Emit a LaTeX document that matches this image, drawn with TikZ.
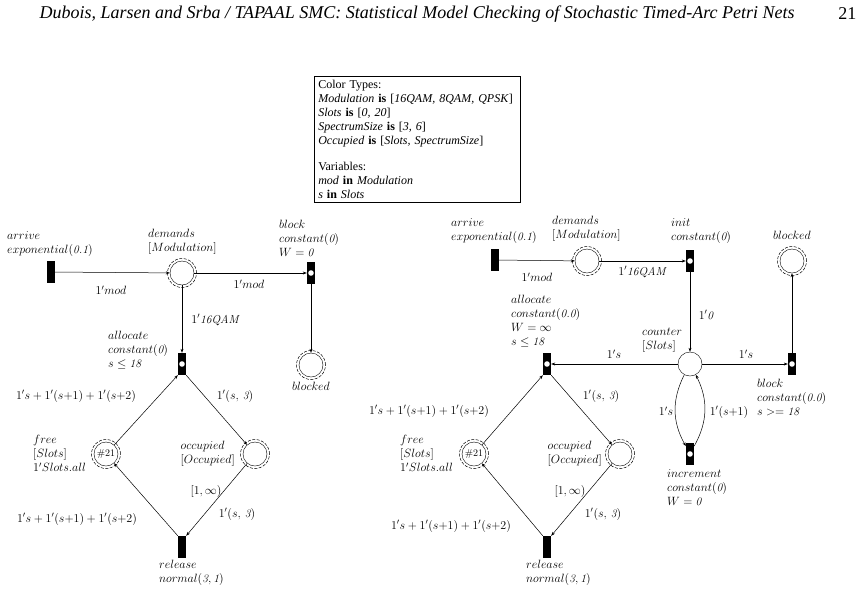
\documentclass[tikz,border=0pt]{standalone}
\usepackage{fontspec}
\newfontfamily\timesf{Liberation Serif}
\usetikzlibrary{arrows.meta,calc}
\newcommand{\n}[1]{\mbox{\itshape #1}}
\begin{document}
\begin{tikzpicture}[x=1pt,y=-1pt,
  lbl/.style={font=\fontsize{11.5}{14}\selectfont,inner sep=0pt,align=left},
  place/.style={circle,draw,minimum size=24pt,inner sep=0pt,font=\fontsize{10}{11}\selectfont},
  ring/.style={dashed,line width=0.5pt,dash pattern=on 3pt off 1.5pt},
  trans/.style={rectangle,fill=black,minimum width=8pt,minimum height=22pt,inner sep=0pt},
  itrans/.style={trans,path picture={\fill[white](path picture bounding box.center) circle (2.8pt);}},
  arc/.style={-{Stealth[length=4pt,width=3pt]},line width=0.5pt}]
\useasboundingbox (0,0) rectangle (863,590);
\node[font=\fontsize{18}{20}\timesf\itshape,anchor=west] (hdr) at (36,14) {Dubois, Larsen and Srba / TAPAAL SMC: Statistical Model Checking of Stochastic Timed-Arc Petri Nets};
\node[font=\fontsize{18}{20}\timesf,anchor=east] (pg) at (860,14) {21};
\node[draw,anchor=north west,align=left,inner sep=4pt,text width=198pt,font=\fontsize{12}{14}\timesf,line width=0.6pt] (box) at (314,76) {Color Types:\\
\textit{Modulation} \textbf{is} [\textit{16QAM, 8QAM, QPSK}]\\
\textit{Slots} \textbf{is} [\textit{0, 20}]\\
\textit{SpectrumSize} \textbf{is} [\textit{3, 6}]\\
\textit{Occupied} \textbf{is} [\textit{Slots, SpectrumSize}]\\[12pt]
Variables:\\
\textit{mod} \textbf{in} \textit{Modulation}\\
\textit{s} \textbf{in} \textit{Slots}};
% ---------- left net
\node[trans] (la) at (51,272) {};
\node[place] (ld) at (182,273) {};
\node[itrans] (lb) at (311,273) {};
\node[place] (lbl) at (311,365) {};
\node[itrans] (lal) at (182,364) {};
\node[place] (lf) at (106,454) {\#21};
\node[place] (lo) at (255,454) {};
\node[trans] (lr) at (182,547) {};
\node[lbl,anchor=north west] (tla) at (7,231) {$arrive$\\$exponential(\n{0.1})$};
\node[lbl,anchor=north west] (tld) at (148,229) {$demands$\\$[Modulation]$};
\node[lbl,anchor=north west] (tlb) at (279,220) {$block$\\$constant(\n{0})$\\$W=\n{0}$};
\node[lbl,anchor=north] (tlbl) at (311,382) {$blocked$};
\node[lbl,anchor=north west] (tlal) at (108,331) {$allocate$\\$constant(\n{0})$\\$s\le \n{18}$};
\node[lbl,anchor=north west] (tlf) at (33,435) {$free$\\$[Slots]$\\$1'Slots.all$};
\node[lbl,anchor=north east] (tlo) at (235,441) {$occupied$\\$[Occupied]$};
\node[lbl,anchor=north west] (tlr) at (159,560) {$release$\\$normal(\n{3},\n{1})$};
\draw[arc] (la) -- (ld);
\node[lbl] (e1) at (111,290) {$1'mod$};
\draw[arc] (ld) -- (lb);
\node[lbl] (e2) at (249,284) {$1'mod$};
\draw[arc] (lb) -- (lbl);
\draw[arc] (ld) -- (lal);
\node[lbl] (e3) at (215,320) {$1'\n{16QAM}$};
\draw[arc] (lf) -- (lal.south west);
\node[lbl] (e4) at (76,396) {$1's+1'(s{+}1)+1'(s{+}2)$};
\draw[arc] (lal.south east) -- (lo);
\node[lbl] (e5) at (235,396) {$1'(s,\,\n{3})$};
\draw[arc] (lo) -- (lr.north east);
\node[lbl] (e6) at (206,491) {$[1,\infty)$};
\node[lbl] (e7) at (237,514) {$1'(s,\,\n{3})$};
\draw[arc] (lr.north west) -- (lf);
\node[lbl] (e8) at (77,519) {$1's+1'(s{+}1)+1'(s{+}2)$};
% ---------- right net
\node[trans] (ra) at (495,260) {};
\node[place] (rd) at (587,261) {};
\node[itrans] (ri) at (690,261) {};
\node[place] (rbl) at (792,261) {};
\node[place] (rc) at (690,364) {};
\node[itrans] (ral) at (547,364) {};
\node[itrans] (rb) at (792,364) {};
\node[itrans] (rin) at (690,454) {};
\node[place] (rf) at (474,454) {\#21};
\node[place] (ro) at (620,454) {};
\node[trans] (rr) at (547,547) {};
\foreach \p in {ld,lbl,lf,lo,rd,rbl,rf,ro} \draw[ring] (\p.center) circle (14.5pt);
\node[lbl,anchor=north west] (tra) at (451,218) {$arrive$\\$exponential(\n{0.1})$};
\node[lbl,anchor=north west] (trd) at (552,216) {$demands$\\$[Modulation]$};
\node[lbl,anchor=north west] (tri) at (671,218) {$init$\\$constant(\n{0})$};
\node[lbl,anchor=north] (trbl) at (792,231) {$blocked$};
\node[lbl,anchor=north west] (tral) at (511,295) {$allocate$\\$constant(\n{0.0})$\\$W=\infty$\\$s\le\n{18}$};
\node[lbl,anchor=north west] (trc) at (642,328) {$counter$\\$[Slots]$};
\node[lbl,anchor=north west] (trb) at (757,379) {$block$\\$constant(\n{0.0})$\\$s>=\n{18}$};
\node[lbl,anchor=north west] (trin) at (667,469) {$increment$\\$constant(\n{0})$\\$W=\n{0}$};
\node[lbl,anchor=north west] (trf) at (400,435) {$free$\\$[Slots]$\\$1'Slots.all$};
\node[lbl,anchor=north east] (tro) at (602,441) {$occupied$\\$[Occupied]$};
\node[lbl,anchor=north west] (trr) at (526,560) {$release$\\$normal(\n{3},\n{1})$};
\draw[arc] (ra) -- (rd);
\node[lbl] (f1) at (537,277) {$1'mod$};
\draw[arc] (rd) -- (ri);
\node[lbl] (f2) at (642,272) {$1'\n{16QAM}$};
\draw[arc] (ri) -- (rc);
\node[lbl] (f3) at (706,315) {$1'\n{0}$};
\draw[arc] (rc) -- (ral);
\node[lbl] (f4) at (614,354) {$1's$};
\draw[arc] (rc) -- (rb);
\node[lbl] (f5) at (746,354) {$1's$};
\draw[arc] (rb) -- (rbl);
\draw[arc] (rc) to[bend right=28] (rin);
\node[lbl] (f6) at (666,411) {$1's$};
\draw[arc] (rin) to[bend right=28] (rc);
\node[lbl] (f7) at (729,412) {$1'(s{+}1)$};
\draw[arc] (rf) -- (ral.south west);
\node[lbl] (f8) at (429,411) {$1's+1'(s{+}1)+1'(s{+}2)$};
\draw[arc] (ral.south east) -- (ro);
\node[lbl] (f9) at (601,396) {$1'(s,\,\n{3})$};
\draw[arc] (ro) -- (rr.north east);
\node[lbl] (f10) at (570,491) {$[1,\infty)$};
\node[lbl] (f11) at (603,514) {$1'(s,\,\n{3})$};
\draw[arc] (rr.north west) -- (rf);
\node[lbl] (f12) at (451,526) {$1's+1'(s{+}1)+1'(s{+}2)$};
\end{tikzpicture}
\end{document}
